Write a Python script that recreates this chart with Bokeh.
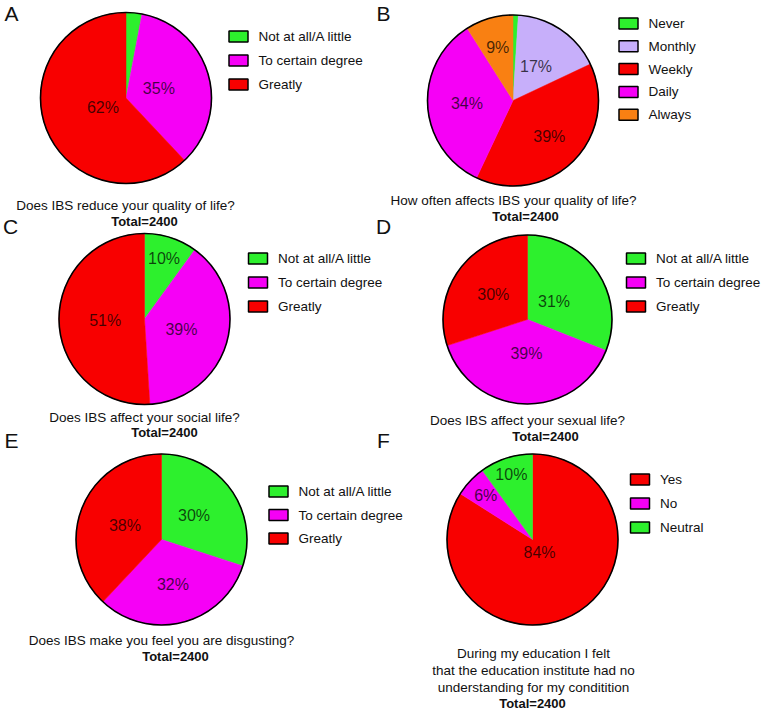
import math
from bokeh.plotting import figure
from bokeh.models import Range1d
from bokeh.core.properties import value
from bokeh.embed import file_html
from bokeh.resources import INLINE

# ---------------- data ----------------
panel_letters = ["A", "B", "C", "D", "E", "F"]

cats_A = ["Not at all/A little", "To certain degree", "Greatly"]
vals_A = [3, 35, 62]
cats_B = ["Never", "Monthly", "Weekly", "Daily", "Always"]
vals_B = [1, 17, 39, 34, 9]
cats_C = ["Not at all/A little", "To certain degree", "Greatly"]
vals_C = [10, 39, 51]
cats_D = ["Not at all/A little", "To certain degree", "Greatly"]
vals_D = [31, 39, 30]
cats_E = ["Not at all/A little", "To certain degree", "Greatly"]
vals_E = [30, 32, 38]
cats_F = ["Yes", "No", "Neutral"]
vals_F = [84, 6, 10]

titles_A = ["Does IBS reduce your quality of life?"]
titles_B = ["How often affects IBS your quality of life?"]
titles_C = ["Does IBS affect your social life?"]
titles_D = ["Does IBS affect your sexual life?"]
titles_E = ["Does IBS make you feel you are disgusting?"]
titles_F = ["During my education I felt",
            "that the education institute had no",
            "understanding for my conditition"]
total_label = "Total=2400"

# ---------------- styles ----------------
GREEN = "#2DF02D"
MAGENTA = "#F600F6"
RED = "#F80000"
LAVENDER = "#C7AFFA"
ORANGE = "#F98012"
cat_colors = {
    "Not at all/A little": GREEN, "To certain degree": MAGENTA, "Greatly": RED,
    "Never": GREEN, "Monthly": LAVENDER, "Weekly": RED, "Daily": MAGENTA,
    "Always": ORANGE, "Yes": RED, "No": MAGENTA, "Neutral": GREEN,
}
FONT = value("Liberation Sans")

# ---------------- layout (picture pixel coordinates) ----------------
W, H = 762, 711
def Y(s):
    return H - s

layout = {
    "A": dict(cats=cats_A, vals=vals_A, titles=titles_A, c=(125.5, 97.5), r=85.5,
              lab_r=[None, 0.40, 0.29], letter=(11, 13),
              leg=(238, 36, 24.0), title_c=(125, 205), total_c=(144, 221)),
    "B": dict(cats=cats_B, vals=vals_B, titles=titles_B, c=(512.5, 100), r=85.5,
              lab_r=[None, 0.48, 0.60, 0.54, 0.64], letter=(383, 13),
              leg=(628, 23, 22.8), title_c=(513, 200), total_c=(525, 216)),
    "C": dict(cats=cats_C, vals=vals_C, titles=titles_C, c=(144, 318.5), r=85.5,
              lab_r=[0.74, 0.45, 0.46], letter=(10, 226),
              leg=(257.5, 258, 24.0), title_c=(144, 417), total_c=(164, 432)),
    "D": dict(cats=cats_D, vals=vals_D, titles=titles_D, c=(527, 319), r=84.5,
              lab_r=[0.38, 0.40, 0.50], letter=(383, 226),
              leg=(635.5, 258, 24.0), title_c=(527, 420), total_c=(545, 436)),
    "E": dict(cats=cats_E, vals=vals_E, titles=titles_E, c=(161, 539), r=85.5,
              lab_r=[0.47, 0.54, 0.46], letter=(11, 440),
              leg=(278, 491, 23.5), title_c=(161, 640), total_c=(175, 656)),
    "F": dict(cats=cats_F, vals=vals_F, titles=titles_F, c=(532, 539), r=85.5,
              lab_r=[0.17, 0.75, 0.80], letter=(383, 440),
              leg=(639.5, 479, 24.0), title_c=(533, 653), total_c=(532, 703)),
}

p = figure(width=W, height=H, x_range=Range1d(0, W), y_range=Range1d(0, H),
           output_backend="svg", toolbar_location=None, min_border=0,
           x_axis_location=None, y_axis_location=None)
p.grid.visible = False
p.outline_line_color = None
p.background_fill_color = "white"
p.border_fill_color = "white"

for letter in panel_letters:
    L = layout[letter]
    vals = L["vals"]
    cats = L["cats"]
    total = float(sum(vals))
    cx, cy = L["c"][0], Y(L["c"][1])
    r = L["r"]

    starts, ends, cols = [], [], []
    lx, ly, lt = [], [], []
    cum = 0.0
    for cat, v, fr in zip(cats, vals, L["lab_r"]):
        a0 = math.pi / 2 - 2 * math.pi * cum / total
        a1 = math.pi / 2 - 2 * math.pi * (cum + v) / total
        starts.append(a0)
        ends.append(a1)
        cols.append(cat_colors[cat])
        if fr is not None:
            th = 2 * math.pi * (cum + v / 2) / total
            lx.append(cx + fr * r * math.sin(th))
            ly.append(cy + fr * r * math.cos(th))
            lt.append(f"{v}%")
        cum += v

    p.wedge(x=[cx] * len(vals), y=[cy] * len(vals), radius=r,
            start_angle=starts, end_angle=ends, direction="clock",
            fill_color=cols, line_color=cols, line_width=0.5)
    p.circle(x=[cx], y=[cy], radius=r, fill_color=None, line_color="black", line_width=1.6)
    p.text(x=lx, y=ly, text=lt, text_font=FONT, text_font_size="16px",
           text_align="center", text_baseline="middle", text_color="black", text_alpha=0.72)

    # legend
    bx, by, step = L["leg"]
    ys = [Y(by + i * step) for i in range(len(cats))]
    p.rect(x=[bx] * len(cats), y=ys, width=19, height=11,
           fill_color=[cat_colors[c] for c in cats], line_color="black", line_width=1.5)
    p.text(x=[bx + 20] * len(cats), y=ys, text=cats, text_font=FONT, text_font_size="13.5px",
           text_align="left", text_baseline="middle", text_color="#111111")

    # panel letter
    p.text(x=[L["letter"][0]], y=[Y(L["letter"][1])], text=[letter], text_font=FONT,
           text_font_size="21px", text_align="center", text_baseline="middle", text_color="#111111")

    # titles
    tx, ty = L["title_c"]
    tys = [Y(ty + i * 17) for i in range(len(L["titles"]))]
    p.text(x=[tx] * len(L["titles"]), y=tys, text=L["titles"], text_font=FONT,
           text_font_size="13.5px", text_align="center", text_baseline="middle", text_color="#111111")
    p.text(x=[L["total_c"][0]], y=[Y(L["total_c"][1])], text=[total_label], text_font=FONT,
           text_font_size="13px", text_font_style="bold", text_align="center",
           text_baseline="middle", text_color="#111111")

open("out.html", "w").write(file_html(p, INLINE))
